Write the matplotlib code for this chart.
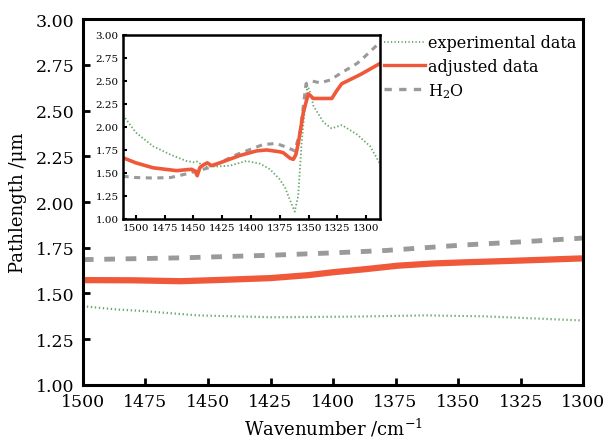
import matplotlib
matplotlib.use("Agg")
import matplotlib.pyplot as plt

plt.rcParams['font.family'] = ['DejaVu Serif']
plt.rcParams['mathtext.fontset'] = 'dejavuserif'

# ---- main panel data (wavenumber in cm^-1, pathlength in um) ----
main_wn_exp = [1500, 1486, 1477, 1454, 1425, 1394, 1363, 1340, 1317, 1300]
main_exp = [1.430, 1.412, 1.405, 1.380, 1.370, 1.373, 1.380, 1.375, 1.362, 1.352]

main_wn_adj = [1500, 1480, 1461, 1445, 1425, 1410, 1400, 1387, 1374, 1360, 1348, 1325, 1300]
main_adj = [1.573, 1.572, 1.567, 1.574, 1.584, 1.600, 1.616, 1.633, 1.652, 1.664, 1.670, 1.680, 1.692]

main_wn_h2o = [1500, 1460, 1425, 1400, 1379, 1348, 1325, 1300]
main_h2o = [1.685, 1.695, 1.709, 1.722, 1.735, 1.765, 1.782, 1.803]

# ---- inset data ----
ins_wn_exp = [1513, 1500, 1485, 1470, 1456, 1449, 1447, 1444, 1440, 1430, 1418, 1404, 1392,
              1383.5, 1375, 1370.4, 1365, 1362, 1359, 1356, 1353, 1351, 1348, 1345.8,
              1337, 1330, 1321, 1308, 1296.5, 1288.4]
ins_exp = [2.16, 1.94, 1.79, 1.70, 1.63, 1.615, 1.625, 1.60, 1.57, 1.57, 1.58, 1.63, 1.60,
           1.54, 1.43, 1.34, 1.17, 1.08, 1.25, 1.83, 2.23, 2.45, 2.36, 2.23,
           2.05, 1.985, 2.02, 1.92, 1.79, 1.61]

ins_wn_adj = [1511.5, 1500, 1485, 1464.6, 1451.6, 1448.5, 1446.7, 1444.3, 1441, 1438, 1434.2,
              1427, 1409.6, 1395, 1386.4, 1375, 1372, 1366, 1363.2, 1361, 1358.8, 1354.5,
              1350.2, 1345.8, 1337, 1329.8, 1325.5, 1321.2, 1305, 1288]
ins_adj = [1.667, 1.61, 1.556, 1.525, 1.54, 1.52, 1.47, 1.56, 1.59, 1.61, 1.58,
           1.61, 1.69, 1.74, 1.75, 1.73, 1.72, 1.66, 1.648, 1.70, 1.83, 2.16,
           2.36, 2.31, 2.31, 2.31, 2.395, 2.47, 2.57, 2.69]

ins_wn_h2o = [1511.5, 1500, 1485, 1470, 1456, 1435.6, 1412.4, 1389.3, 1378, 1369, 1362,
              1357.4, 1354.5, 1352.2, 1347.2, 1340, 1331.3, 1322.6, 1308, 1305, 1288]
ins_h2o = [1.465, 1.45, 1.445, 1.45, 1.49, 1.56, 1.70, 1.81, 1.82, 1.78, 1.74,
           1.94, 2.23, 2.47, 2.50, 2.48, 2.51, 2.58, 2.69, 2.72, 2.92]

xticks = [1500, 1475, 1450, 1425, 1400, 1375, 1350, 1325, 1300]
yticks = [1.00, 1.25, 1.50, 1.75, 2.00, 2.25, 2.50, 2.75, 3.00]

c_exp = '#6aa86a'
c_adj = '#f0583a'
c_h2o = '#9a9a9a'

fig = plt.figure(figsize=(6.05, 4.39), dpi=100)
ax = fig.add_axes([0.137, 0.121, 0.827, 0.833])

ax.plot(main_wn_exp, main_exp, linestyle=(0, (0.6, 1.2)), color=c_exp, lw=1.6,
        label='experimental data')
ax.plot(main_wn_adj, main_adj, '-', color=c_adj, lw=4.5, label='adjusted data')
ax.plot(main_wn_h2o, main_h2o, linestyle=(0, (2.2, 2.2)), color=c_h2o, lw=3.5,
        label='H$_2$O')

ax.set_xlim(1500, 1300)
ax.set_ylim(1.0, 3.0)
ax.set_xticks(xticks)
ax.set_yticks(yticks)
ax.set_yticklabels([f'{v:.2f}' for v in yticks])
ax.tick_params(direction='in', length=5, width=2, labelsize=12.5, pad=6)
for s in ax.spines.values():
    s.set_linewidth(2.2)
ax.set_xlabel('Wavenumber /cm$^{-1}$', fontsize=13, labelpad=4)
ax.set_ylabel('Pathlength /μm', fontsize=13, labelpad=6)

leg = ax.legend(loc='upper right', bbox_to_anchor=(1.005, 0.985), frameon=False,
                fontsize=11.5, handlelength=2.6, handletextpad=0.15, labelspacing=0.4,
                borderaxespad=0.2)
for h in leg.get_lines():
    h.set_linewidth(2.4 if h.get_color() != c_exp else 1.4)

# ---- inset ----
ins = fig.add_axes([0.203, 0.499, 0.425, 0.419])
ins.plot(ins_wn_exp, ins_exp, linestyle=(0, (0.8, 1.2)), color=c_exp, lw=1.3)
ins.plot(ins_wn_h2o, ins_h2o, linestyle=(0, (2.0, 1.8)), color=c_h2o, lw=2.2)
ins.plot(ins_wn_adj, ins_adj, '-', color=c_adj, lw=2.6)
ins.set_xlim(1511.3, 1288)
ins.set_ylim(1.0, 3.0)
ins.set_xticks(xticks)
ins.set_yticks(yticks)
ins.set_yticklabels([f'{v:.2f}' for v in yticks])
ins.tick_params(direction='in', length=3, width=1.5, labelsize=7.5, pad=3)
for s in ins.spines.values():
    s.set_linewidth(1.8)

fig.savefig('out.png', dpi=100)
